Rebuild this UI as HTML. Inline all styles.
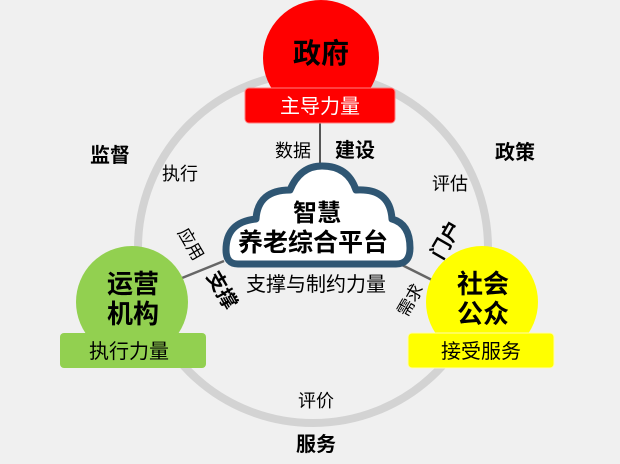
<!DOCTYPE html>
<html><head><meta charset="utf-8"><style>
body{margin:0;background:#f0f0f0;}
svg text{font-family:"Liberation Sans","Noto Sans CJK SC",sans-serif;}
</style></head><body>
<svg width="620" height="459" viewBox="0 0 620 459" xmlns="http://www.w3.org/2000/svg">
<rect width="620" height="459" fill="#f0f0f0"/>
<circle cx="313" cy="248" r="175" fill="none" stroke="#d3d3d3" stroke-width="8"/>
<line x1="320" y1="122" x2="320" y2="185" stroke="#555" stroke-width="2"/>
<line x1="182" y1="278" x2="224" y2="261" stroke="#666" stroke-width="2.5"/>
<line x1="400" y1="264" x2="438" y2="283" stroke="#666" stroke-width="2.5"/>
<path d="M238 264 Q226 264 226 250 Q226 222 256 219 Q258 190 290 190 Q300 166 322 166 Q348 166 356 190 Q390 188 392 219 Q410 224 410 248 Q410 264 396 264 Z" fill="#fff" stroke="#2f5673" stroke-width="7" stroke-linejoin="round"/>
<text x="317" y="221" font-size="24" font-weight="bold" text-anchor="middle">智慧</text>
<text x="313" y="251" font-size="25" font-weight="bold" text-anchor="middle">养老综合平台</text>
<circle cx="321" cy="58" r="58" fill="#ff0000"/>
<text x="321" y="63" font-size="28" font-weight="bold" text-anchor="middle">政府</text>
<rect x="245" y="88" width="150" height="35" rx="4" fill="#ff0000" stroke="#ff8080" stroke-width="1"/>
<text x="320" y="113" font-size="20" fill="#fff" text-anchor="middle">主导力量</text>
<circle cx="132" cy="302" r="56" fill="#92d050"/>
<text x="133" y="293" font-size="26" font-weight="bold" text-anchor="middle">运营</text>
<text x="133" y="323" font-size="26" font-weight="bold" text-anchor="middle">机构</text>
<rect x="60" y="333" width="146" height="35" rx="4" fill="#92d050"/>
<text x="129" y="358" font-size="20" text-anchor="middle">执行力量</text>
<circle cx="482" cy="302" r="56" fill="#ffff00"/>
<text x="483" y="293" font-size="26" font-weight="bold" text-anchor="middle">社会</text>
<text x="483" y="323" font-size="26" font-weight="bold" text-anchor="middle">公众</text>
<rect x="408" y="333" width="146" height="35" rx="4" fill="#ffff00" stroke="#fffbb0" stroke-width="1"/>
<text x="481" y="358" font-size="20" text-anchor="middle">接受服务</text>
<text x="110" y="162" font-size="20" font-weight="bold" text-anchor="middle">监督</text>
<text x="180" y="180" font-size="18" text-anchor="middle">执行</text>
<text x="293" y="157" font-size="18" text-anchor="middle">数据</text>
<text x="355" y="157" font-size="20" font-weight="bold" text-anchor="middle">建设</text>
<text x="515" y="159" font-size="20" font-weight="bold" text-anchor="middle">政策</text>
<text x="450" y="190" font-size="18" text-anchor="middle">评估</text>
<text x="316" y="291" font-size="20" text-anchor="middle">支撑与制约力量</text>
<text x="316" y="407" font-size="18" text-anchor="middle">评价</text>
<text x="316" y="451" font-size="20" font-weight="bold" text-anchor="middle">服务</text>
<text transform="translate(191,244) rotate(60)" font-size="17" text-anchor="middle" dy="6">应用</text>
<text transform="translate(222,290) rotate(60)" font-size="20" font-weight="bold" text-anchor="middle" dy="7">支撑</text>
<text transform="translate(446,240) rotate(-60)" font-size="20" font-weight="bold" text-anchor="middle" dy="7">门户</text>
<text transform="translate(410,300) rotate(-60)" font-size="17" text-anchor="middle" dy="6">需求</text>
</svg>
</body></html>
